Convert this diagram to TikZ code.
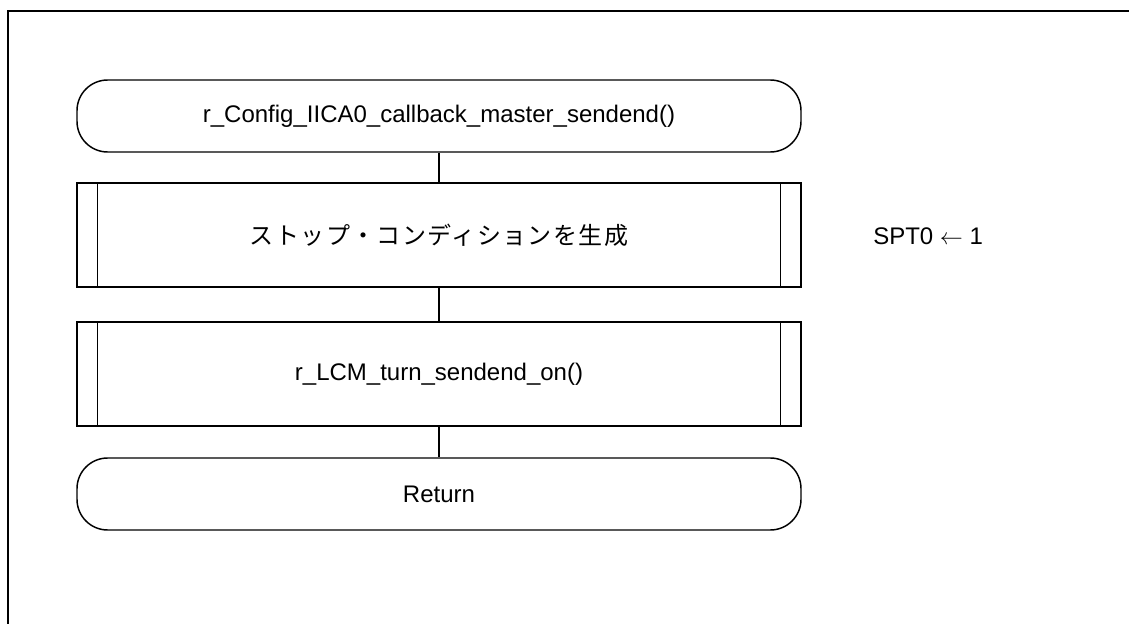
\documentclass[tikz,border=0pt]{standalone}
\usepackage{fontspec}
\setmainfont{Liberation Sans}
\newfontfamily\jpfont[LetterSpace=6]{Noto Sans CJK JP}
\begin{document}
\begin{tikzpicture}[x=0.75pt,y=-0.75pt,
  every node/.style={font=\fontsize{18pt}{21pt}\selectfont, inner sep=0pt},
  term/.style={draw, line width=1.1pt, rounded corners=23pt, minimum width=543pt, minimum height=54pt},
  subproc/.style={draw, line width=1.1pt, minimum width=543pt, minimum height=78pt},
  flow/.style={line width=1.1pt}]
\useasboundingbox (0,0) rectangle (1129,624);
\draw [line width=0.8pt] (8,624) -- (8,11) -- (1129,11);
\node [term] (start) at (439,116) {r\_Config\_IICA0\_callback\_master\_sendend()};
\node [subproc] (stop) at (439,235) {\jpfont ストップ・コンディションを生成};
\node [subproc] (lcm) at (439,374) {r\_LCM\_turn\_sendend\_on()};
\node [term] (ret) at (439,494) {Return};
\node [anchor=west] (spt) at (873,236) {SPT0 $\leftarrow$ 1};
\foreach \n in {stop,lcm} {
  \draw [flow] ([xshift=15.75pt]\n.north west) -- ([xshift=15.75pt]\n.south west);
  \draw [flow] ([xshift=-15.75pt]\n.north east) -- ([xshift=-15.75pt]\n.south east);
}
\draw [flow] (start) -- (stop);
\draw [flow] (stop) -- (lcm);
\draw [flow] (lcm) -- (ret);
\end{tikzpicture}
\end{document}
